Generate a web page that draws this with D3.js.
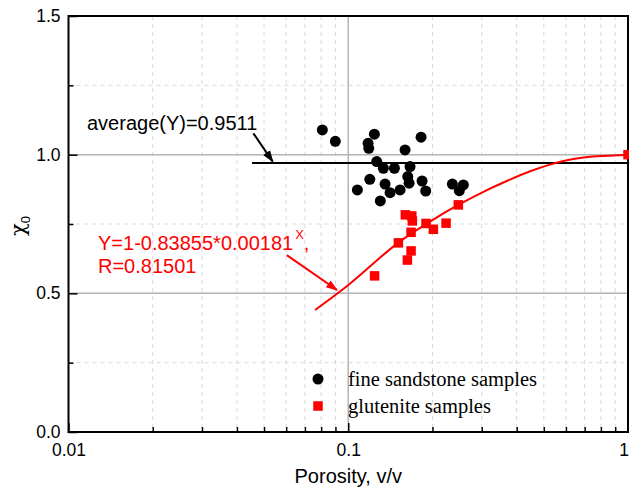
<!DOCTYPE html>
<html>
<head>
<meta charset="utf-8">
<script src="https://cdn.jsdelivr.net/npm/d3@7"></script>
<style>
  body { margin: 0; background: #fff; }
  svg { display: block; }
</style>
</head>
<body>
<div id="chart"></div>
<script>
// fine sandstone samples
const sandPorosity = [0.0808, 0.0899, 0.1240, 0.1177, 0.1184, 0.1821, 0.1596, 0.1264, 0.1335, 0.1462,
                      0.1663, 0.1632, 0.1194, 0.1078, 0.1354, 0.1411, 0.1302, 0.1532, 0.1650, 0.1836,
                      0.1892, 0.2356, 0.2579, 0.2495];
const sandChi = [1.089, 1.048, 1.074, 1.041, 1.023, 1.063, 1.017, 0.975, 0.951, 0.951,
                 0.957, 0.921, 0.911, 0.873, 0.894, 0.863, 0.833, 0.873, 0.897, 0.905,
                 0.869, 0.894, 0.891, 0.870];

// glutenite samples
const gluPorosity = [0.2475, 0.1600, 0.1687, 0.1695, 0.1897, 0.2015, 0.2237, 0.1677, 0.1511, 0.1677,
                     0.1627, 0.1242, 1.0];
const gluChi = [0.819, 0.783, 0.779, 0.761, 0.752, 0.731, 0.753, 0.720, 0.682, 0.653,
                0.620, 0.563, 1.0];

// fitted curve
const fitPorosity = [0.0761, 0.1001, 0.1511, 0.2129, 0.2475, 0.3041, 0.3687, 0.4467, 0.5267, 0.6380, 0.7736, 1.0];
const fitChi = [0.440, 0.530, 0.683, 0.781, 0.819, 0.866, 0.905, 0.940, 0.964, 0.984, 0.994, 0.999];

// average line
const avgChi = 0.970;
const avgFrom = 0.0453;

const xTicks = [0.01, 0.1, 1];
const xMinorTicks = [0.02, 0.03, 0.04, 0.05, 0.06, 0.07, 0.08, 0.09, 0.2, 0.3, 0.4, 0.5, 0.6, 0.7, 0.8, 0.9];
const yTicks = [0, 0.5, 1.0, 1.5];
const yMinorTicks = [0.25, 0.75, 1.25];

const W = 629, H = 493;
const m = {left: 68.5, right: 628, top: 16, bottom: 432};

const x = d3.scaleLog().domain([0.01, 1]).range([m.left, m.right]);
const y = d3.scaleLinear().domain([0, 1.5]).range([m.bottom, m.top]);

const svg = d3.select('#chart').append('svg')
    .attr('width', W)
    .attr('height', H)
    .style('font-family', '"Liberation Sans", Arial, sans-serif');

const defs = svg.append('defs');
[['arrBlack', 'black'], ['arrRed', 'red']].forEach(([id, c]) => {
  defs.append('marker')
      .attr('id', id)
      .attr('viewBox', '0 0 10 10')
      .attr('refX', 9).attr('refY', 5)
      .attr('markerWidth', 12).attr('markerHeight', 12)
      .attr('markerUnits', 'userSpaceOnUse')
      .attr('orient', 'auto')
    .append('path')
      .attr('d', 'M0,1.5 L10,5 L0,8.5 Z')
      .attr('fill', c);
});

// minor grid (dashed)
const grid = svg.append('g');
grid.selectAll('.vminor').data(xMinorTicks).enter().append('line')
    .attr('x1', d => x(d)).attr('x2', d => x(d))
    .attr('y1', m.top).attr('y2', m.bottom)
    .attr('stroke', '#d9d9d9').attr('stroke-width', 1).attr('stroke-dasharray', '4,4');
grid.selectAll('.hminor').data(yMinorTicks).enter().append('line')
    .attr('x1', m.left).attr('x2', m.right)
    .attr('y1', d => y(d)).attr('y2', d => y(d))
    .attr('stroke', '#d9d9d9').attr('stroke-width', 1).attr('stroke-dasharray', '4,4');

// major grid
grid.selectAll('.vmajor').data(xTicks.slice(1, -1)).enter().append('line')
    .attr('x1', d => x(d)).attr('x2', d => x(d))
    .attr('y1', m.top).attr('y2', m.bottom)
    .attr('stroke', '#b4b4b4').attr('stroke-width', 1.5);
grid.selectAll('.hmajor').data(yTicks.slice(1, -1)).enter().append('line')
    .attr('x1', m.left).attr('x2', m.right)
    .attr('y1', d => y(d)).attr('y2', d => y(d))
    .attr('stroke', '#b4b4b4').attr('stroke-width', 1.5);

// axes
const xAxis = d3.axisBottom(x).tickValues(xTicks).tickSize(-9).tickPadding(12)
    .tickFormat(d => d === 1 ? '1' : d3.format('')(d));
const xAxisMinor = d3.axisBottom(x).tickValues(xMinorTicks).tickSize(-5).tickFormat('');
const yAxis = d3.axisLeft(y).tickValues(yTicks).tickSize(-9).tickPadding(8).tickFormat(d3.format('.1f'));
const yAxisMinor = d3.axisLeft(y).tickValues(yMinorTicks).tickSize(-5).tickFormat('');

const gx = svg.append('g').attr('transform', `translate(0,${m.bottom})`).call(xAxis);
svg.append('g').attr('transform', `translate(0,${m.bottom})`).call(xAxisMinor);
const gy = svg.append('g').attr('transform', `translate(${m.left},0)`).call(yAxis);
svg.append('g').attr('transform', `translate(${m.left},0)`).call(yAxisMinor);

svg.selectAll('.tick line').attr('stroke', '#000').attr('stroke-width', 1.5);
svg.selectAll('path.domain').attr('stroke', 'none');
gx.selectAll('text').attr('font-size', '17.5px').attr('fill', '#000')
    .attr('font-family', '"Liberation Sans", Arial, sans-serif');
// last label sits at the window edge
gx.selectAll('.tick text').filter(d => d === 1).attr('text-anchor', 'end').attr('dx', 0.5);
gy.selectAll('text').attr('font-size', '17.5px').attr('fill', '#000')
    .attr('font-family', '"Liberation Sans", Arial, sans-serif');

// frame
svg.append('rect')
    .attr('x', m.left).attr('y', m.top)
    .attr('width', m.right - m.left).attr('height', m.bottom - m.top)
    .attr('fill', 'none').attr('stroke', '#000').attr('stroke-width', 2);

// axis titles
svg.append('text')
    .attr('x', (m.left + m.right) / 2).attr('y', 483)
    .attr('text-anchor', 'middle').attr('font-size', '20px')
    .text('Porosity, v/v');

const yt = svg.append('text')
    .attr('transform', 'translate(25,226) rotate(-90)')
    .attr('text-anchor', 'middle').attr('font-size', '21px');
yt.append('tspan').attr('font-family', '"DejaVu Serif", serif').text('χ');
yt.append('tspan').attr('font-size', '13px').attr('dy', 5).text('0');

// average line
svg.append('line')
    .attr('x1', x(avgFrom)).attr('x2', m.right)
    .attr('y1', y(avgChi)).attr('y2', y(avgChi))
    .attr('stroke', '#000').attr('stroke-width', 2);

// fitted curve
const fit = fitPorosity.map((p, i) => [p, fitChi[i]]);
svg.append('path')
    .datum(fit)
    .attr('fill', 'none').attr('stroke', 'red').attr('stroke-width', 2)
    .attr('d', d3.line().x(d => x(d[0])).y(d => y(d[1])).curve(d3.curveCatmullRom.alpha(0.5)));

// points
const sand = sandPorosity.map((p, i) => [p, sandChi[i]]);
svg.append('g').selectAll('circle').data(sand).enter().append('circle')
    .attr('cx', d => x(d[0])).attr('cy', d => y(d[1]))
    .attr('r', 5.5).attr('fill', '#000');

const glu = gluPorosity.map((p, i) => [p, gluChi[i]]);
const sq = 9.5;
svg.append('g').selectAll('rect').data(glu).enter().append('rect')
    .attr('x', d => x(d[0]) - sq / 2).attr('y', d => y(d[1]) - sq / 2)
    .attr('width', sq).attr('height', sq)
    .attr('fill', 'red');

// annotations
svg.append('text')
    .attr('x', 87).attr('y', 130).attr('font-size', '20px')
    .text('average(Y)=0.9511');
svg.append('line')
    .attr('x1', x(0.0458)).attr('y1', y(1.077))
    .attr('x2', x(0.0537)).attr('y2', y(0.975))
    .attr('stroke', '#000').attr('stroke-width', 2)
    .attr('marker-end', 'url(#arrBlack)');

const eq = svg.append('text')
    .attr('x', 98).attr('y', 250).attr('font-size', '20px').attr('fill', 'red');
eq.append('tspan').text('Y=1-0.83855*0.00181');
eq.append('tspan').attr('font-size', '13px').attr('dy', -11).attr('dx', 2).text('X');
eq.append('tspan').attr('dy', 11).text(',');
svg.append('text')
    .attr('x', 98).attr('y', 273).attr('font-size', '20px').attr('fill', 'red')
    .text('R=0.81501');
svg.append('line')
    .attr('x1', x(0.0603)).attr('y1', y(0.638))
    .attr('x2', x(0.0912)).attr('y2', y(0.512))
    .attr('stroke', 'red').attr('stroke-width', 2)
    .attr('marker-end', 'url(#arrRed)');

// legend
const lg = svg.append('g').attr('font-family', '"Liberation Serif", "Times New Roman", serif').attr('font-size', '20.5px');
lg.append('circle').attr('cx', 318).attr('cy', 379).attr('r', 5.5).attr('fill', '#000');
lg.append('text').attr('x', 348).attr('y', 386).text('fine sandstone samples');
lg.append('rect').attr('x', 318 - sq / 2).attr('y', 406 - sq / 2).attr('width', sq).attr('height', sq).attr('fill', 'red');
lg.append('text').attr('x', 348).attr('y', 413).text('glutenite samples');
</script>
</body>
</html>
